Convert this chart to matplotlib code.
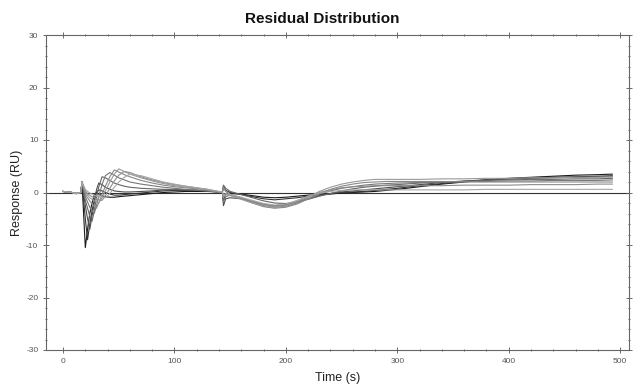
import matplotlib
matplotlib.use("Agg")
import matplotlib.pyplot as plt
from matplotlib.ticker import MultipleLocator

plt.rcParams['font.family'] = ['Liberation Sans', 'DejaVu Sans']
plt.rcParams['axes.unicode_minus'] = False

time_s = [0, 4, 8, 12, 16, 17, 20, 22, 24, 26, 28, 30, 32, 35, 38, 42, 46, 50, 55, 60,
          70, 80, 90, 100, 110, 120, 130, 138, 143, 144, 146, 150, 160, 170, 180, 190,
          200, 210, 220, 230, 240, 250, 260, 270, 280, 290, 300, 320, 340, 360, 380,
          400, 420, 440, 460, 480, 493]

base = [0.2, 0.1, 0.0, -0.2, 0.0, 2.0]

res_0 = base + [-10.5, -7.0, -4.0, -2.0, -0.5, 0.0, -0.3, -0.6, -0.8, -0.9, -0.9, -0.8, -0.7, -0.6,
                -0.4, -0.2, 0.0, 0.1, 0.2, 0.2, 0.2, 0.1, 0.0, -1.5, -0.3, -0.2, -0.3, -0.6, -0.9, -1.0,
                -0.9, -0.7, -0.5, -0.4, -0.3, -0.1, 0.0, 0.1, 0.2, 0.4, 0.6, 1.1, 1.6, 2.0, 2.4,
                2.7, 2.9, 3.1, 3.3, 3.4, 3.5]
res_1 = base + [-5.0, -9.0, -6.0, -3.5, -1.5, 0.0, 0.5, 0.3, 0.0, -0.3, -0.5, -0.5, -0.4, -0.3,
                -0.1, 0.1, 0.3, 0.4, 0.4, 0.4, 0.3, 0.2, 0.1, 1.2, 0.4, 0.0, -0.4, -0.8, -1.2, -1.4,
                -1.2, -1.0, -0.7, -0.4, -0.2, 0.0, 0.1, 0.2, 0.4, 0.6, 0.8, 1.3, 1.7, 2.1, 2.4,
                2.6, 2.8, 2.9, 3.0, 3.1, 3.2]
res_2 = base + [-2.5, -5.0, -7.0, -4.5, -2.0, 0.5, 1.8, 1.5, 1.0, 0.6, 0.3, 0.2, 0.1, 0.1,
                0.2, 0.3, 0.5, 0.5, 0.5, 0.4, 0.3, 0.2, 0.1, -2.5, -1.2, -1.0, -1.2, -1.7, -2.2, -2.5,
                -2.3, -1.8, -1.2, -0.6, -0.2, 0.1, 0.3, 0.5, 0.7, 0.9, 1.1, 1.5, 1.9, 2.2, 2.4,
                2.6, 2.7, 2.8, 2.9, 3.0, 3.0]
res_3 = base + [-1.5, -3.0, -4.5, -5.5, -3.5, -1.0, 1.0, 3.0, 2.8, 2.3, 1.8, 1.5, 1.2, 1.0,
                0.8, 0.7, 0.6, 0.6, 0.5, 0.4, 0.3, 0.1, 0.0, 1.4, 0.8, 0.2, -0.4, -1.0, -1.6, -2.0,
                -2.1, -1.8, -1.3, -0.7, -0.2, 0.3, 0.7, 1.0, 1.2, 1.4, 1.5, 1.8, 2.0, 2.1, 2.3,
                2.4, 2.5, 2.5, 2.6, 2.6, 2.7]
res_4 = base + [-0.8, -1.8, -2.8, -3.5, -4.0, -2.5, -0.8, 1.5, 3.2, 3.8, 3.3, 2.8, 2.4, 2.0,
                1.6, 1.3, 1.0, 0.8, 0.6, 0.5, 0.3, 0.1, 0.0, -1.8, -0.8, -0.5, -1.0, -1.8, -2.5, -2.8,
                -2.6, -2.0, -1.2, -0.3, 0.3, 0.8, 1.1, 1.4, 1.6, 1.7, 1.8, 1.9, 2.0, 2.1, 2.1,
                2.2, 2.2, 2.3, 2.3, 2.3, 2.4]
res_5 = base + [-0.3, -1.0, -1.6, -2.2, -2.6, -3.0, -2.0, -0.3, 1.2, 3.0, 4.3, 3.9, 3.4, 3.0,
                2.3, 1.8, 1.4, 1.1, 0.9, 0.7, 0.5, 0.2, 0.1, 0.8, 0.2, -0.3, -1.2, -2.0, -2.7, -3.0,
                -2.8, -2.2, -1.2, -0.2, 0.6, 1.2, 1.6, 1.9, 2.0, 2.1, 2.1, 2.1, 2.1, 2.0, 2.0,
                2.0, 2.0, 2.0, 2.0, 2.0, 2.0]
res_6 = base + [0.0, -0.5, -1.0, -1.3, -1.6, -1.8, -2.0, -1.0, 0.3, 2.0, 3.5, 4.5, 4.0, 3.5,
                2.8, 2.2, 1.7, 1.3, 1.0, 0.8, 0.5, 0.2, 0.0, -1.0, -0.4, -0.6, -1.3, -2.0, -2.6, -2.8,
                -2.5, -1.8, -0.9, 0.2, 1.0, 1.6, 2.0, 2.3, 2.5, 2.5, 2.5, 2.5, 2.6, 2.6, 2.7,
                2.7, 2.8, 2.8, 2.9, 2.9, 3.0]
res_7 = base + [0.3, -0.2, -0.5, -0.8, -1.0, -1.2, -1.4, -1.5, -0.6, 0.8, 2.2, 3.3, 4.0, 3.8,
                3.0, 2.4, 1.9, 1.5, 1.2, 0.9, 0.6, 0.2, 0.0, 1.0, 0.3, -0.4, -1.0, -1.7, -2.3, -2.6,
                -2.4, -1.7, -0.8, 0.0, 0.5, 0.9, 1.1, 1.2, 1.3, 1.3, 1.3, 1.3, 1.3, 1.4, 1.4,
                1.4, 1.5, 1.5, 1.5, 1.6, 1.6]
res_8 = base + [0.6, 0.2, -0.1, -0.3, -0.5, -0.7, -0.8, -0.9, -1.0, -0.2, 1.0, 2.0, 2.9, 3.5,
                3.2, 2.6, 2.0, 1.6, 1.2, 0.9, 0.6, 0.3, 0.1, -0.5, -0.2, -0.4, -0.9, -1.5, -2.1, -2.4,
                -2.2, -1.5, -0.7, -0.1, 0.2, 0.4, 0.5, 0.5, 0.5, 0.5, 0.5, 0.5, 0.5, 0.5, 0.6,
                0.6, 0.6, 0.6, 0.6, 0.6, 0.6]

series = [res_0, res_1, res_2, res_3, res_4, res_5, res_6, res_7, res_8]
colors = ['#1a1a1a', '#333333', '#4d4d4d', '#666666', '#777777', '#888888', '#999999', '#8c8c8c', '#a6a6a6']

fig = plt.figure(figsize=(6.33, 3.88), dpi=100)
fig.patch.set_facecolor('white')
ax = fig.add_axes([46/633, 1-350/388, (629-46)/633, (350-35)/388])

ax.axhline(0, color='#333333', lw=0.8, zorder=1)
for ys, c in zip(series, colors):
    ax.plot(time_s, ys, color=c, lw=0.8, zorder=2)

ax.set_xlim(-15.3, 508)
ax.set_ylim(-30, 30)
ax.xaxis.set_major_locator(MultipleLocator(100))
ax.xaxis.set_minor_locator(MultipleLocator(20))
ax.yaxis.set_major_locator(MultipleLocator(10))
ax.yaxis.set_minor_locator(MultipleLocator(2))
ax.tick_params(which='both', top=True, right=True, direction='inout', colors='#555555',
               labelsize=6, labelcolor='#555555', width=0.6)
ax.tick_params(which='major', length=4)
ax.tick_params(which='minor', length=2)
for s in ax.spines.values():
    s.set_color('#666666')
    s.set_linewidth(0.8)

ax.set_xlabel('Time (s)', fontsize=9, color='#222222', labelpad=5)
ax.set_ylabel('Response (RU)', fontsize=9, color='#222222', labelpad=2)
fig.text(0.509, 0.952, 'Residual Distribution', ha='center', va='center',
         fontsize=11, fontweight='bold', color='#111111')

fig.savefig('out.png', dpi=100, facecolor='white')
